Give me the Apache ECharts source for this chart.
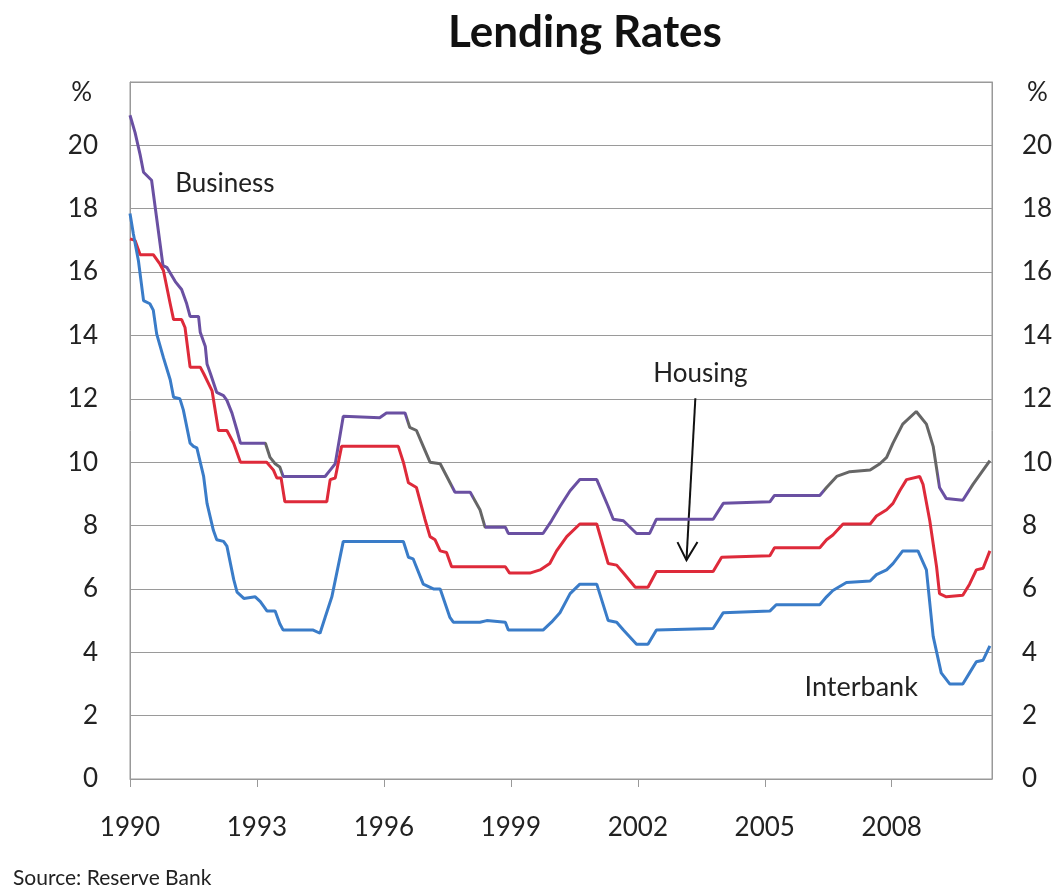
<!DOCTYPE html>
<html>
<head>
<meta charset="utf-8">
<script src="https://cdn.jsdelivr.net/npm/echarts@6/dist/echarts.min.js"></script>
<style>
html,body{margin:0;padding:0;background:#fff;}
#c{width:1052px;height:885px;}
</style>
</head>
<body>
<div id="c"></div>
<script>
// ---- Data (decimal year, percent) ----
const business = [
[1990.0,20.95],[1990.12,20.4],[1990.24,19.7],[1990.32,19.15],[1990.51,18.9],[1990.78,16.2],[1990.87,16.15],
[1991.07,15.7],[1991.22,15.45],[1991.34,15.0],[1991.42,14.6],[1991.62,14.6],[1991.66,14.1],[1991.78,13.65],
[1991.82,13.1],[1991.9,12.8],[1992.05,12.2],[1992.21,12.1],[1992.29,11.95],[1992.41,11.55],[1992.53,11.0],
[1992.61,10.6],[1993.2,10.6],[1993.31,10.15],[1993.43,9.95],[1993.54,9.85],[1993.62,9.55],[1994.61,9.55],
[1994.73,9.75],[1994.85,9.95],[1995.04,11.45],[1995.9,11.4],[1996.06,11.55],[1996.5,11.55],[1996.61,11.1],
[1996.77,11.0],[1996.93,10.5],[1997.09,10.0],[1997.33,9.95],[1997.68,9.05],[1998.04,9.05],[1998.27,8.5],
[1998.39,7.95],[1998.87,7.95],[1998.94,7.75],[1999.76,7.75],[1999.96,8.15],[2000.16,8.6],[2000.4,9.1],
[2000.63,9.45],[2001.03,9.45],[2001.3,8.6],[2001.42,8.2],[2001.66,8.15],[2001.97,7.75],[2002.28,7.75],
[2002.44,8.2],[2003.78,8.2],[2004.02,8.7],[2005.12,8.75],[2005.23,8.95],[2006.3,8.95],[2006.46,9.2],
[2006.7,9.55],[2007.01,9.7],[2007.49,9.75],[2007.72,9.95],[2007.88,10.15],[2008.03,10.6],[2008.26,11.2],
[2008.58,11.6],[2008.82,11.2],[2008.98,10.5],[2009.13,9.2],[2009.29,8.85],[2009.68,8.8],[2009.92,9.3],
[2010.08,9.6],[2010.32,10.05]
];
const housing = [
[1990.0,17.05],[1990.12,17.0],[1990.24,16.55],[1990.55,16.55],[1990.71,16.25],[1990.79,16.05],[1990.95,15.0],
[1991.03,14.5],[1991.22,14.5],[1991.3,14.25],[1991.42,13.0],[1991.66,13.0],[1991.74,12.8],[1991.94,12.25],
[1992.09,11.0],[1992.29,11.0],[1992.45,10.6],[1992.61,10.0],[1993.23,10.0],[1993.39,9.75],[1993.47,9.5],
[1993.57,9.5],[1993.66,8.75],[1994.65,8.75],[1994.73,9.45],[1994.85,9.5],[1995.0,10.5],[1996.34,10.5],
[1996.46,10.0],[1996.58,9.35],[1996.77,9.2],[1996.97,8.2],[1997.09,7.65],[1997.21,7.55],[1997.33,7.2],
[1997.48,7.15],[1997.6,6.7],[1998.87,6.7],[1998.97,6.5],[1999.45,6.5],[1999.69,6.6],[1999.92,6.8],
[2000.08,7.2],[2000.32,7.65],[2000.63,8.05],[2001.03,8.05],[2001.3,6.8],[2001.5,6.75],[2001.66,6.5],
[2001.94,6.05],[2002.24,6.05],[2002.44,6.55],[2003.78,6.55],[2003.98,7.0],[2005.12,7.05],[2005.23,7.3],
[2006.3,7.3],[2006.46,7.55],[2006.61,7.7],[2006.85,8.05],[2007.49,8.05],[2007.64,8.3],[2007.88,8.5],
[2008.03,8.7],[2008.19,9.1],[2008.35,9.45],[2008.66,9.55],[2008.74,9.3],[2008.9,8.15],[2009.06,6.7],
[2009.13,5.85],[2009.29,5.75],[2009.68,5.8],[2009.84,6.15],[2010.0,6.6],[2010.16,6.65],[2010.32,7.2]
];
const interbank = [
[1990.0,17.85],[1990.08,17.2],[1990.2,16.35],[1990.32,15.1],[1990.47,15.0],[1990.55,14.8],[1990.63,14.05],
[1990.79,13.3],[1990.95,12.6],[1991.03,12.05],[1991.18,12.0],[1991.26,11.65],[1991.42,10.6],[1991.5,10.5],
[1991.58,10.45],[1991.74,9.55],[1991.82,8.7],[1991.97,7.85],[1992.05,7.55],[1992.21,7.5],[1992.29,7.35],
[1992.45,6.3],[1992.53,5.9],[1992.69,5.7],[1992.96,5.75],[1993.08,5.6],[1993.24,5.3],[1993.43,5.3],
[1993.54,4.9],[1993.62,4.7],[1994.33,4.7],[1994.49,4.6],[1994.61,5.1],[1994.77,5.75],[1995.04,7.5],
[1996.46,7.5],[1996.58,7.0],[1996.69,6.95],[1996.93,6.15],[1997.17,6.0],[1997.33,6.0],[1997.56,5.1],
[1997.64,4.95],[1998.27,4.95],[1998.43,5.0],[1998.87,4.95],[1998.94,4.7],[1999.76,4.7],[1999.96,4.95],
[2000.16,5.25],[2000.4,5.85],[2000.63,6.15],[2001.03,6.15],[2001.3,5.0],[2001.5,4.95],[2001.66,4.7],
[2001.97,4.25],[2002.24,4.25],[2002.44,4.7],[2003.78,4.75],[2004.02,5.25],[2005.12,5.3],[2005.27,5.5],
[2006.3,5.5],[2006.46,5.75],[2006.61,5.95],[2006.93,6.2],[2007.49,6.25],[2007.64,6.45],[2007.88,6.6],
[2008.03,6.8],[2008.26,7.2],[2008.62,7.2],[2008.82,6.6],[2008.98,4.5],[2009.17,3.35],[2009.37,3.0],
[2009.68,3.0],[2009.84,3.35],[2010.0,3.7],[2010.16,3.75],[2010.32,4.2]
];
const yearTicks = [1990, 1993, 1996, 1999, 2002, 2005, 2008];
const titleText = 'Lending Rates';
const sourceText = 'Source: Reserve Bank';
const labelBusiness = {text: 'Business', at: [1992.24, 18.8]};
const labelHousing = {text: 'Housing', at: [2003.48, 12.81]};
const labelInterbank = {text: 'Interbank', at: [2007.28, 2.9]};
const arrowFrom = [2003.36, 12.02];
const arrowTo = [2003.15, 6.91];
// business line colour bands (purple / grey segments)
const businessBands = [
  [1990, 1993.2, 'p'], [1993.2, 1993.6, 'g'], [1993.6, 1996.55, 'p'], [1996.55, 1997.6, 'g'],
  [1997.6, 1998.1, 'p'], [1998.1, 1998.4, 'g'], [1998.4, 2006.4, 'p'], [2006.4, 2009.1, 'g'],
  [2009.1, 2009.85, 'p'], [2009.85, 2010.5, 'g']
];

const FONT = 'Lato, "Open Sans", "DejaVu Sans", sans-serif';
const PURPLE = '#6a50a2', GREY = '#666666', RED = '#de2a3a', BLUE = '#3a7cc8';
const TXT = '#222';
const AX = 26;

const chart = echarts.init(document.getElementById('c'), null, {renderer: 'canvas'});

const option = {
  animation: false,
  backgroundColor: '#fff',
  grid: {left: 130, right: 60, top: 82, bottom: 106, containLabel: false, outerBoundsMode: 'none',
         show: true, borderColor: '#999', borderWidth: 1},
  xAxis: {
    type: 'value', min: 1990, max: 2010.37, interval: 3,
    axisLine: {show: true, lineStyle: {color: '#999', width: 1}},
    axisTick: {show: true, length: 8, inside: false, customValues: yearTicks, lineStyle: {color: '#999'}},
    axisLabel: {customValues: yearTicks, margin: 36, fontSize: AX, fontFamily: FONT, color: TXT,
                formatter: v => String(Math.round(v))},
    splitLine: {show: false}
  },
  yAxis: [{
    type: 'value', min: 0, max: 22, interval: 2, position: 'left',
    axisLine: {show: true, lineStyle: {color: '#999'}},
    axisTick: {show: false},
    splitLine: {show: true, lineStyle: {color: '#9a9a9a', width: 1}},
    axisLabel: {margin: 32, fontSize: AX, fontFamily: FONT, color: TXT,
      formatter: v => v === 22 ? '{p|%}' : String(v),
      rich: {p: {fontSize: AX, fontFamily: FONT, color: TXT, padding: [22, 6, 0, 0]}}}
  }, {
    type: 'value', min: 0, max: 22, interval: 2, position: 'right',
    axisLine: {show: true, lineStyle: {color: '#999'}},
    axisTick: {show: false},
    splitLine: {show: false},
    axisLabel: {margin: 30, fontSize: AX, fontFamily: FONT, color: TXT,
      formatter: v => v === 22 ? '{p|%}' : String(v),
      rich: {p: {fontSize: AX, fontFamily: FONT, color: TXT, padding: [22, 0, 0, 5]}}}
  }],
  visualMap: {
    type: 'piecewise', show: false, seriesIndex: 0, dimension: 0,
    pieces: businessBands.map(b => ({gte: b[0], lt: b[1], color: b[2] === 'p' ? PURPLE : GREY})),
    outOfRange: {color: PURPLE}
  },
  series: [
    {name: 'Business', type: 'line', data: business, showSymbol: false, symbol: 'none',
     lineStyle: {width: 3}, z: 3},
    {name: 'Housing', type: 'line', data: housing, showSymbol: false, symbol: 'none',
     lineStyle: {width: 3, color: RED}, itemStyle: {color: RED}, z: 4},
    {name: 'Interbank', type: 'line', data: interbank, showSymbol: false, symbol: 'none',
     lineStyle: {width: 3, color: BLUE}, itemStyle: {color: BLUE}, z: 5}
  ]
};
chart.setOption(option);

function px(p) { return chart.convertToPixel({gridIndex: 0}, p); }
const pb = px(labelBusiness.at), ph = px(labelHousing.at), pi = px(labelInterbank.at);
const a0 = px(arrowFrom), a1 = px(arrowTo);
const gH = chart.getHeight();
chart.setOption({
  graphic: [
    {type: 'text', x: 585, y: 33, style: {text: titleText, font: 'bold 44px ' + FONT, fill: '#111',
      textAlign: 'center', textVerticalAlign: 'middle'}},
    {type: 'text', x: pb[0], y: pb[1], style: {text: labelBusiness.text, font: '26px ' + FONT, fill: TXT,
      textAlign: 'center', textVerticalAlign: 'middle'}},
    {type: 'text', x: ph[0], y: ph[1], style: {text: labelHousing.text, font: '26px ' + FONT, fill: TXT,
      textAlign: 'center', textVerticalAlign: 'middle'}},
    {type: 'text', x: pi[0], y: pi[1], style: {text: labelInterbank.text, font: '27px ' + FONT, fill: TXT,
      textAlign: 'center', textVerticalAlign: 'middle'}},
    {type: 'line', shape: {x1: a0[0], y1: a0[1], x2: a1[0], y2: a1[1]}, style: {stroke: '#111', lineWidth: 2}},
    {type: 'polyline', shape: {points: [[a1[0] - 9, a1[1] - 18], [a1[0], a1[1]], [a1[0] + 11, a1[1] - 18]]},
      style: {stroke: '#111', lineWidth: 2, fill: null}},
    {type: 'text', x: 13, y: gH + 4, style: {text: sourceText, font: '21px ' + FONT, fill: TXT,
      textAlign: 'left', textVerticalAlign: 'bottom'}}
  ]
});
</script>
</body>
</html>
